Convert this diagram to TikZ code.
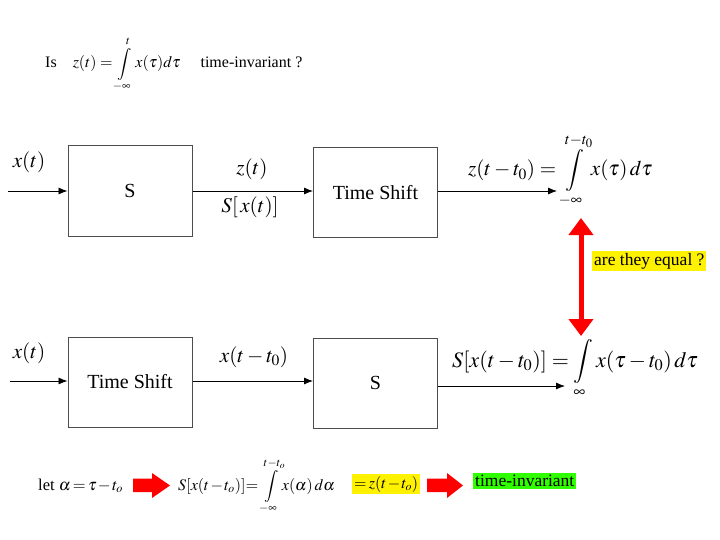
\documentclass[tikz,border=0pt]{standalone}
\usepackage{mathptmx}
\usepackage{fontspec}
\setmainfont{Liberation Serif}
\usetikzlibrary{arrows.meta}
\begin{document}
\begin{tikzpicture}[x=1pt,y=-1pt,
  blk/.style={draw=black!70,line width=1pt,minimum width=124pt,minimum height=90pt,inner sep=0pt,font=\fontsize{20}{24}\selectfont},
  sig/.style={-{Latex[length=9pt,width=7pt]},line width=0.8pt},
  lab/.style={inner sep=0pt,font=\fontsize{21}{25}\selectfont},
  formula/.style={inner sep=0pt,font=\fontsize{21}{25}\selectfont},
  small/.style={inner sep=0pt,font=\fontsize{16}{19}\selectfont},
  note/.style={inner sep=0pt,font=\fontsize{17.5}{21}\selectfont},
  tight/.style={execute at begin node={\medmuskip=1.5mu\thickmuskip=2.5mu}},
  redarrow/.style={fill=red}]
\useasboundingbox (0,0) rectangle (720,540);

% title
\node[small,anchor=base west] (title) at (45,68)
  {Is\quad $z(t)=\displaystyle\int\limits_{-\infty}^{t}x(\tau)d\tau$\quad\ time-invariant ?};

% top row
\node[blk] (s1) at (130,191) {S};
\node[blk] (ts1) at (375.5,192.5) {Time Shift};
\coordinate (in1) at (8,191);
\coordinate (out1) at (557,191);
\draw[sig] (in1) -- (s1.west |- in1);
\draw[sig] (s1.east |- in1) -- (ts1.west |- in1);
\draw[sig] (ts1.east |- out1) -- (out1);
\node[lab] (x1) at (29,162) {$x(t)$};
\node[lab] (z1) at (252,169) {$z(t)$};
\node[lab] (sx1) at (250,207) {$S[\,x(t)]$};
\node[formula,anchor=base west] (f1) at (468,176)
  {$z(t-t_0)=\displaystyle\int\limits_{-\infty}^{t-t_0}x(\tau)\,d\tau$};

% bottom row
\node[blk] (ts2) at (130,382) {Time Shift};
\node[blk] (s2) at (375.5,383) {S};
\coordinate (in2) at (10,381);
\coordinate (out2) at (565,386);
\draw[sig] (in2) -- (ts2.west |- in2);
\draw[sig] (ts2.east |- in2) -- (s2.west |- in2);
\draw[sig] (s2.east |- out2) -- (out2);
\node[lab] (x2) at (29,353) {$x(t)$};
\node[lab] (xs2) at (254,357) {$x(t-t_0)$};
\node[formula,anchor=base west,font=\fontsize{22}{26}\selectfont] (f2) at (452,367)
  {$S[x(t-t_0)]=\displaystyle\int\limits_{\infty}x(\tau-t_0)\,d\tau$};

% equality question
\coordinate (eqtop) at (581,218);
\coordinate (eqbot) at (581,336);
\draw[red,line width=5pt,{Triangle[length=17pt,width=24pt]}-{Triangle[length=17pt,width=24pt]}] (eqtop) -- (eqbot);
\node[note,fill=yellow,inner sep=2pt,anchor=west] (q) at (592,261) {are they equal ?};

% bottom derivation
\node[anchor=base west,inner sep=0pt,tight,font=\fontsize{16.5}{20}\selectfont] (let) at (38,490) {let $\alpha=\tau-t_o$};
\fill[redarrow] (133,478.5) -- (152,478.5) -- (152,473) -- (170,485.5) -- (152,498) -- (152,492) -- (133,492) -- cycle;
\node[anchor=base west,inner sep=0pt,tight,font=\fontsize{16}{19}\selectfont] (f3) at (178,490)
  {$S[x(t-t_o)]\!=\displaystyle\int\limits_{-\infty}^{t-t_o}\!x(\alpha)\,d\alpha$};
\node[fill=yellow,inner sep=2pt,tight,font=\fontsize{16}{19}\selectfont,anchor=west] (zz) at (352,484) {$=z(t-t_o)$};
\fill[redarrow] (427,478.5) -- (447,478.5) -- (447,473) -- (463,485.5) -- (447,498) -- (447,492) -- (427,492) -- cycle;
\node[note,fill=green!75!lime,inner sep=2pt,anchor=west] (ti) at (473,481) {time-invariant};
\end{tikzpicture}
\end{document}
